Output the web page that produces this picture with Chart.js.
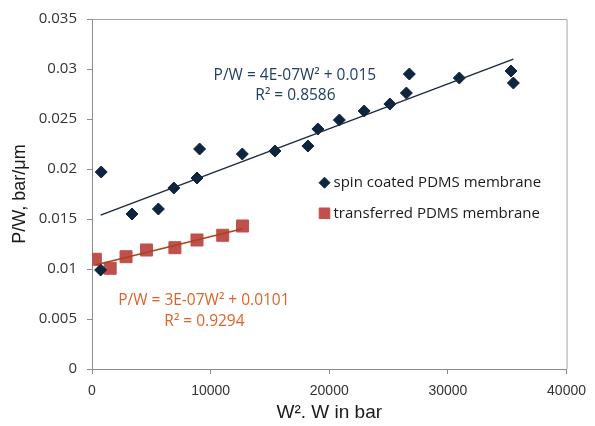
<!DOCTYPE html>
<html>
<head>
<meta charset="utf-8">
<script src="https://cdn.jsdelivr.net/npm/chart.js@4/dist/chart.umd.min.js"></script>
<style>
  html, body { margin: 0; padding: 0; background: #ffffff; }
  #wrap { width: 595px; height: 426px; }
</style>
</head>
<body>
<div id="wrap"><canvas id="c" width="595" height="426"></canvas></div>
<script>
// ---- Data ----
const spinLabel = 'spin coated PDMS membrane';
const spinX = [726, 777, 3370, 5595, 6900, 8850, 9070, 12670, 15420, 18200, 19040, 20850, 22940, 25110, 26500, 26750, 30960, 35320, 35520];
const spinY = [0.0099, 0.0197, 0.0155, 0.0160, 0.0181, 0.0191, 0.0220, 0.0215, 0.0218, 0.0223, 0.0240, 0.0249, 0.0258, 0.0265, 0.0276, 0.0295, 0.0291, 0.0298, 0.0286];

const transLabel = 'transferred PDMS membrane';
const transX = [280, 1530, 2870, 4590, 6990, 8850, 11020, 12690];
const transY = [0.01097, 0.01007, 0.01123, 0.0119, 0.01213, 0.0129, 0.01337, 0.0143];

const spinEquation = ['P/W = 4E-07W² + 0.015', 'R² = 0.8586'];
const transEquation = ['P/W = 3E-07W² + 0.0101', 'R² = 0.9294'];

const xTicks = [0, 10000, 20000, 30000, 40000];
const yTicks = [0, 0.005, 0.01, 0.015, 0.02, 0.025, 0.03, 0.035];

// ---- helpers ----
function pts(xs, ys) { return xs.map((x, i) => ({ x: x, y: ys[i] })); }
function trend(xs, ys) {
  const n = xs.length;
  const mx = xs.reduce((a, b) => a + b, 0) / n;
  const my = ys.reduce((a, b) => a + b, 0) / n;
  let sxy = 0, sxx = 0;
  for (let i = 0; i < n; i++) { sxy += (xs[i] - mx) * (ys[i] - my); sxx += (xs[i] - mx) ** 2; }
  const b = sxy / sxx, a = my - b * mx;
  const x0 = Math.min(...xs), x1 = Math.max(...xs);
  return [{ x: x0, y: a + b * x0 }, { x: x1, y: a + b * x1 }];
}

const navy = '#0f243e';
const red = '#c0504d';

const frame = {
  id: 'frame',
  afterDatasetsDraw(chart) {
    const { ctx, chartArea: a } = chart;
    ctx.save();
    ctx.strokeStyle = '#a6a6a6';
    ctx.lineWidth = 1;
    ctx.beginPath();
    ctx.moveTo(a.left, a.top + 0.5);
    ctx.lineTo(a.right + 0.5, a.top + 0.5);
    ctx.lineTo(a.right + 0.5, a.bottom);
    ctx.stroke();
    ctx.restore();
  }
};

const annotations = {
  id: 'annotations',
  afterDraw(chart) {
    const { ctx, scales: { x, y } } = chart;
    ctx.save();
    ctx.textBaseline = 'middle';
    ctx.font = '15.5px "Open Sans"';
    // equations
    ctx.textAlign = 'center';
    ctx.fillStyle = '#1f3f66';
    ctx.fillText(spinEquation[0], x.getPixelForValue(17100), y.getPixelForValue(0.0293));
    ctx.fillText(spinEquation[1], x.getPixelForValue(17150), y.getPixelForValue(0.0273));
    ctx.fillStyle = '#e0622a';
    ctx.fillText(transEquation[0], x.getPixelForValue(9430), y.getPixelForValue(0.0068));
    ctx.fillText(transEquation[1], x.getPixelForValue(9480), y.getPixelForValue(0.0047));
    // legend
    const lx = x.getPixelForValue(19600);
    const ly1 = y.getPixelForValue(0.01863);
    const ly2 = y.getPixelForValue(0.01557);
    const ds = chart.data.datasets;
    ctx.fillStyle = ds[0].backgroundColor; ctx.strokeStyle = ds[0].borderColor; ctx.lineWidth = 1;
    Chart.helpers.drawPoint(ctx, { pointStyle: 'rectRot', radius: 5.5, borderWidth: 1 }, lx, ly1);
    ctx.fillStyle = ds[1].backgroundColor; ctx.strokeStyle = ds[1].borderColor;
    Chart.helpers.drawPoint(ctx, { pointStyle: 'rect', radius: 7.5, borderWidth: 1 }, lx, ly2);
    ctx.font = '15px "Open Sans"';
    ctx.textAlign = 'left';
    ctx.fillStyle = '#1a1a1a';
    ctx.fillText(ds[0].label, lx + 9, ly1);
    ctx.fillText(ds[1].label, lx + 9, ly2);
    ctx.restore();
  }
};

new Chart(document.getElementById('c'), {
  type: 'scatter',
  data: {
    datasets: [
      { label: spinLabel, data: pts(spinX, spinY), pointStyle: 'rectRot', pointRadius: 6,
        backgroundColor: navy, borderColor: navy, borderWidth: 1, order: 2 },
      { label: transLabel, data: pts(transX, transY), pointStyle: 'rect', pointRadius: 8.5,
        backgroundColor: red, borderColor: red, borderWidth: 1, order: 3 },
      { type: 'line', label: 'spin trend', data: trend(spinX, spinY), borderColor: '#1c2b3c',
        borderWidth: 1.5, pointRadius: 0, fill: false, order: 0 },
      { type: 'line', label: 'transferred trend', data: trend(transX, transY), borderColor: '#a8441c',
        borderWidth: 1.5, pointRadius: 0, fill: false, order: 1 }
    ]
  },
  options: {
    responsive: false,
    animation: false,
    layout: { padding: { top: 19, right: 24, left: 0, bottom: 0 } },
    plugins: { legend: { display: false }, tooltip: { enabled: false } },
    scales: {
      x: {
        type: 'linear', min: 0, max: 40000,
        afterFit(s) { s.height = 57; },
        afterBuildTicks(s) { s.ticks = xTicks.map(v => ({ value: v })); },
        ticks: { padding: 9, color: '#333333', font: { family: '"Liberation Sans"', size: 14 },
                 callback: v => String(v) },
        grid: { drawOnChartArea: false, drawTicks: true, tickLength: 5, color: '#8c8c8c' },
        border: { display: true, color: '#8c8c8c', width: 1 },
        title: { display: true, text: 'W². W in bar', color: '#1a1a1a',
                 font: { family: '"Liberation Sans"', size: 19 }, padding: { top: 0, bottom: 2 } }
      },
      y: {
        type: 'linear', min: 0, max: 0.035,
        afterFit(s) { s.width = 92; },
        afterBuildTicks(s) { s.ticks = yTicks.map(v => ({ value: v })); },
        ticks: { padding: 10, color: '#333333', font: { family: '"Open Sans"', size: 15 },
                 callback: v => String(Number(v.toFixed(3))) },
        grid: { drawOnChartArea: false, drawTicks: true, tickLength: 5, color: '#8c8c8c' },
        border: { display: true, color: '#8c8c8c', width: 1 },
        title: { display: true, text: 'P/W, bar/μm', color: '#1a1a1a',
                 font: { family: '"Liberation Sans"', size: 18 }, padding: { top: 9, bottom: 0 } }
      }
    }
  },
  plugins: [frame, annotations]
});
</script>
</body>
</html>
